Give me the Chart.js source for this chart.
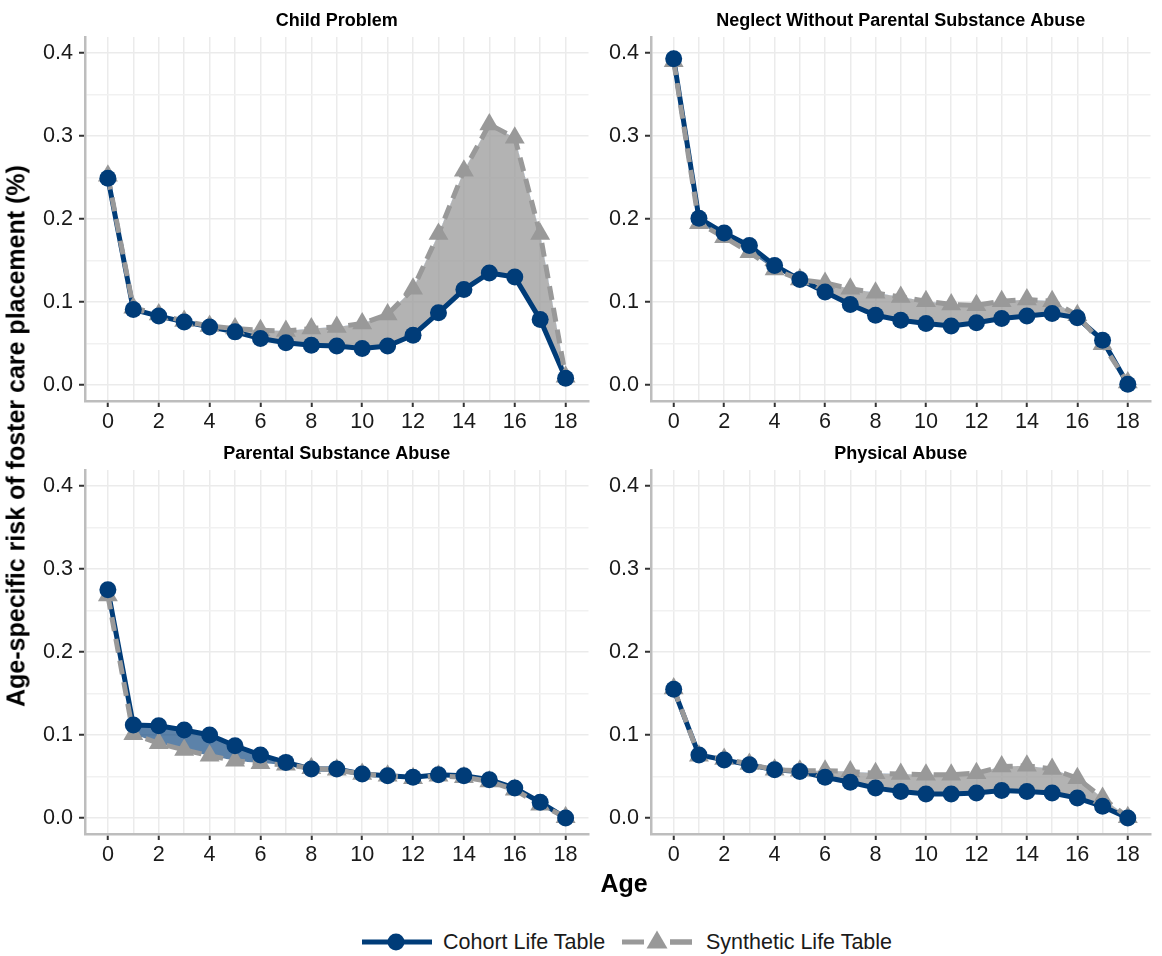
<!DOCTYPE html>
<html>
<head>
<meta charset="utf-8">
<script src="https://cdn.jsdelivr.net/npm/chart.js@4.4.1/dist/chart.umd.min.js"></script>
<style>
  body { margin: 0; background: #fff; font-family: "Liberation Sans", Arial, sans-serif; }
  #wrap { position: relative; width: 1162px; height: 956px; overflow: hidden; }
  canvas { position: absolute; }
  #ytitle {
    position: absolute; left: 16px; top: 436px; white-space: nowrap;
    transform: translate(-50%, -50%) rotate(-90deg);
    font-weight: bold; font-size: 25px; color: #000;
  }
  #xtitle {
    position: absolute; left: 624px; top: 883px; transform: translate(-50%, -50%);
    font-weight: bold; font-size: 25px; color: #000;
  }
  .lg { position: absolute; top: 942px; transform: translateY(-50%); font-size: 21.5px; color: #1a1a1a; white-space: nowrap; }
  svg.lg { display: block; }
</style>
</head>
<body>
<div id="wrap">
  <canvas id="p1" width="600" height="440" style="left:0;top:0"></canvas>
  <canvas id="p2" width="562" height="440" style="left:600px;top:0"></canvas>
  <canvas id="p3" width="600" height="440" style="left:0;top:433px"></canvas>
  <canvas id="p4" width="562" height="440" style="left:600px;top:433px"></canvas>
  <div id="ytitle">Age-specific risk of foster care placement (%)</div>
  <div id="xtitle">Age</div>
  <svg class="lg" style="left:362px" width="70" height="24"><line x1="0" y1="12" x2="70" y2="12" stroke="#003c78" stroke-width="5"/><circle cx="34" cy="12" r="8.5" fill="#003c78"/></svg>
  <div class="lg" style="left:443px">Cohort Life Table</div>
  <svg class="lg" style="left:622px" width="70" height="24"><line x1="0" y1="12" x2="70" y2="12" stroke="#999" stroke-width="5" stroke-dasharray="22 26"/><line x1="48" y1="12" x2="70" y2="12" stroke="#999" stroke-width="5"/><polygon points="35,0.5 45.5,18.5 24.5,18.5" fill="#999"/></svg>
  <div class="lg" style="left:706px">Synthetic Life Table</div>
</div>
<script>
(() => {
  'use strict'

  const ages = [0, 1, 2, 3, 4, 5, 6, 7, 8, 9, 10, 11, 12, 13, 14, 15, 16, 17, 18]

  const cohortChild = [0.249, 0.091, 0.083, 0.076, 0.070, 0.064, 0.056, 0.051, 0.048, 0.047, 0.044, 0.047, 0.060, 0.087, 0.115, 0.135, 0.130, 0.079, 0.008]
  const synthChild = [0.252, 0.093, 0.085, 0.077, 0.071, 0.068, 0.066, 0.065, 0.068, 0.070, 0.074, 0.085, 0.116, 0.182, 0.258, 0.314, 0.298, 0.182, 0.010]

  const cohortNeglect = [0.393, 0.201, 0.183, 0.168, 0.144, 0.127, 0.112, 0.097, 0.084, 0.078, 0.074, 0.071, 0.075, 0.080, 0.083, 0.086, 0.081, 0.054, 0.001]
  const synthNeglect = [0.390, 0.195, 0.178, 0.160, 0.139, 0.127, 0.123, 0.116, 0.111, 0.106, 0.101, 0.097, 0.096, 0.101, 0.103, 0.101, 0.084, 0.049, 0.003]

  const cohortParental = [0.275, 0.112, 0.111, 0.106, 0.100, 0.087, 0.076, 0.067, 0.059, 0.059, 0.053, 0.051, 0.049, 0.052, 0.051, 0.046, 0.036, 0.019, 0.000]
  const synthParental = [0.268, 0.101, 0.090, 0.082, 0.075, 0.069, 0.066, 0.064, 0.060, 0.058, 0.053, 0.051, 0.048, 0.051, 0.049, 0.044, 0.034, 0.016, 0.001]

  const cohortPhysical = [0.155, 0.076, 0.070, 0.064, 0.058, 0.056, 0.049, 0.043, 0.036, 0.032, 0.029, 0.029, 0.030, 0.033, 0.032, 0.030, 0.024, 0.014, 0.000]
  const synthPhysical = [0.156, 0.075, 0.071, 0.065, 0.058, 0.057, 0.057, 0.056, 0.054, 0.053, 0.052, 0.052, 0.054, 0.062, 0.063, 0.059, 0.048, 0.024, 0.001]

  const xTickLabels = ['0', '2', '4', '6', '8', '10', '12', '14', '16', '18']
  const yTickLabels = ['0.0', '0.1', '0.2', '0.3', '0.4']

  const NAVY = '#003c78'
  const GREY = '#999999'
  const FONT = '"Liberation Sans", Arial, sans-serif'

  const panels = [
    { id: 'p1', title: 'Child Problem', cohort: cohortChild, synth: synthChild, yWidth: 85, padRight: 4 },
    { id: 'p2', title: 'Neglect Without Parental Substance Abuse', cohort: cohortNeglect, synth: synthNeglect, yWidth: 51, padRight: 1 },
    { id: 'p3', title: 'Parental Substance Abuse', cohort: cohortParental, synth: synthParental, yWidth: 85, padRight: 4 },
    { id: 'p4', title: 'Physical Abuse', cohort: cohortPhysical, synth: synthPhysical, yWidth: 51, padRight: 1 }
  ]

  const pts = vals => ages.map((a, i) => ({ x: a, y: vals[i] }))
  const isMajorY = v => Math.abs(v * 10 - Math.round(v * 10)) < 1e-6
  const yLabel = v => yTickLabels.find(l => Math.abs(parseFloat(l) - v) < 1e-6) || ''
  const xLabel = v => xTickLabels.includes(String(v)) ? String(v) : ''

  panels.forEach(p => {
    // eslint-disable-next-line no-new
    new Chart(document.getElementById(p.id), {
      type: 'line',
      data: {
        datasets: [
          {
            // cohort points on top
            data: pts(p.cohort),
            showLine: false,
            pointStyle: 'circle',
            pointRadius: 8.5,
            pointBackgroundColor: NAVY,
            pointBorderWidth: 0
          },
          {
            data: pts(p.synth),
            borderColor: GREY,
            borderWidth: 5,
            borderDash: [14, 8],
            pointStyle: 'triangle',
            pointRadius: 11.5,
            pointBackgroundColor: GREY,
            pointBorderWidth: 0,
            tension: 0
          },
          {
            // cohort line with ribbon to synthetic
            data: pts(p.cohort),
            borderColor: NAVY,
            borderWidth: 5,
            pointRadius: 0,
            tension: 0,
            fill: { target: 1, above: 'rgba(0,60,120,0.64)', below: 'rgba(153,153,153,0.74)' }
          }
        ]
      },
      options: {
        responsive: false,
        animation: false,
        devicePixelRatio: 1,
        layout: { padding: { left: 0, right: p.padRight, top: 0, bottom: 0 } },
        plugins: {
          legend: { display: false },
          tooltip: { enabled: false },
          title: {
            display: true,
            text: p.title,
            fullSize: false,
            color: '#000',
            font: { family: FONT, size: 18, weight: 'bold', lineHeight: 1.2 },
            padding: { top: 10, bottom: 5.4 }
          }
        },
        scales: {
          x: {
            type: 'linear',
            min: -0.9,
            max: 18.9,
            afterFit: s => { s.height = 39 },
            border: { display: true, color: '#bdbdbd', width: 2.5 },
            grid: {
              color: '#ebebeb',
              lineWidth: 1.5,
              tickLength: 6,
              tickWidth: 2,
              tickColor: c => (c.tick && c.tick.value % 2 === 0) ? '#333' : 'rgba(0,0,0,0)'
            },
            ticks: {
              stepSize: 1,
              includeBounds: false,
              autoSkip: false,
              maxRotation: 0,
              padding: 2,
              color: '#1a1a1a',
              font: { family: FONT, size: 21.6 },
              callback: v => xLabel(v)
            }
          },
          y: {
            min: -0.0193,
            max: 0.4193,
            afterFit: s => { s.width = p.yWidth },
            border: { display: true, color: '#bdbdbd', width: 2.5 },
            grid: {
              color: c => (c.tick && isMajorY(c.tick.value)) ? '#ebebeb' : '#f1f1f1',
              lineWidth: 1.5,
              tickLength: 6,
              tickWidth: 2,
              tickColor: c => (c.tick && isMajorY(c.tick.value)) ? '#333' : 'rgba(0,0,0,0)'
            },
            ticks: {
              stepSize: 0.05,
              includeBounds: false,
              autoSkip: false,
              padding: 6,
              color: '#1a1a1a',
              font: { family: FONT, size: 21.6 },
              callback: v => yLabel(v)
            }
          }
        }
      }
    })
  })
})()
</script>
</body>
</html>
